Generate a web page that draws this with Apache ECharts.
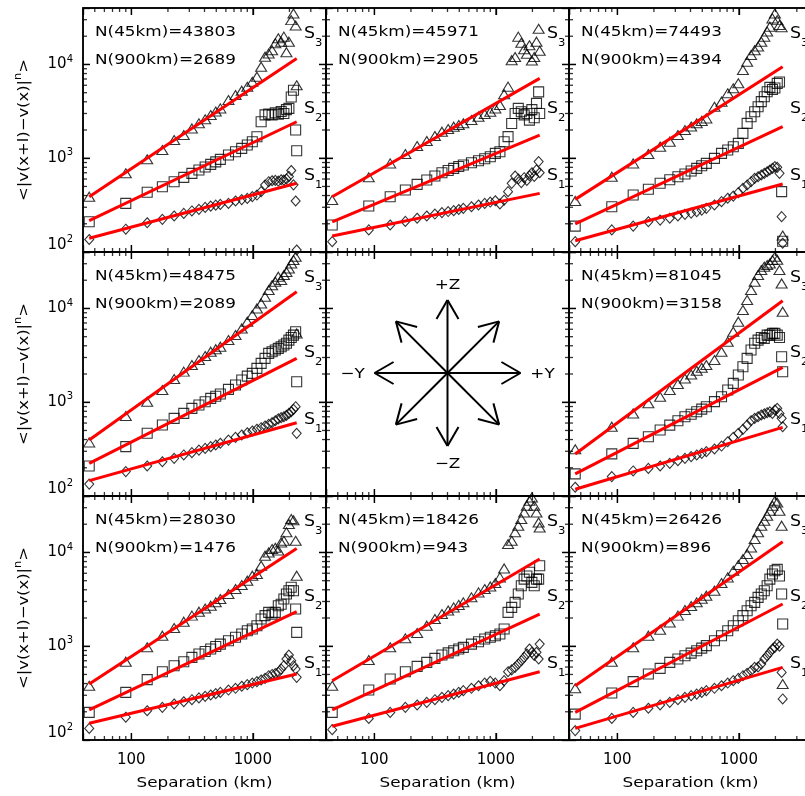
<!DOCTYPE html>
<html><head><meta charset="utf-8">
<script src="https://cdn.jsdelivr.net/npm/echarts@6/dist/echarts.min.js"></script>
<style>html,body{margin:0;padding:0;background:#fff}#c{width:805px;height:796px}</style>
</head><body><div id="c"></div>
<script>
// ---------- data ----------
const SEP = [45,90,135,180,225,270,315,360,405,450,495,540,630,720,810,900,990,1080,1170,1260,1350,1440,1530,1620,1710,1800,1890,1980,2070,2160,2250,2295];
const FIT_X = [45, 2295];
const X_MAJOR = [100, 1000];
const X_MINOR = [50,60,70,80,90,200,300,400,500,600,700,800,900,2000,3000];
const Y_MAJOR = [1000, 10000];
const Y_MINOR = [200,300,400,500,600,700,800,900,2000,3000,4000,5000,6000,7000,8000,9000,20000,30000];
const N45  = [43803,45971,74493,48475,null,81045,28030,18426,26426];
const N900 = [2689,2905,4394,2089,null,3158,1476,943,896];

const P1_S3 = [389,690,973,1223,1563,1768,2080,2354,2600,2890,3150,3400,4170,4720,5250,5780,6540,7400,9460,12100,13100,14200,16800,19000,17500,19800,13500,17500,29700,35000,26000,6000];
const P1_S2 = [210,330,433,497,562,625,690,748,805,860,915,973,1082,1174,1274,1382,1500,1697,2453,2900,2950,2900,3050,2950,3150,3000,3300,3400,4500,5300,2000,1200];
const P1_S1 = [136,175,205,223,242,258,274,285,299,309,316,322,330,350,362,373,390,405,440,518,562,575,580,570,590,585,600,640,740,520,350,105];

const P2_S3 = [358,625,881,1109,1350,1525,1725,1920,2050,2170,2260,2355,2553,2773,2960,3135,3400,3700,4800,5800,11100,12000,19800,17000,14500,13000,16000,11000,12000,17500,24000,14000];
const P2_S2 = [194,309,389,458,526,586,646,701,740,780,815,847,896,941,988,1038,1127,1174,1500,1700,2350,3000,3400,3130,2900,3000,2550,3300,2700,3850,5100,3000];
const P2_S1 = [129,172,194,212,229,242,254,263,270,276,284,292,304,317,330,341,352,325,358,440,540,646,600,550,620,580,650,700,640,750,920,700];

const P3_S3 = [350,635,881,1109,1328,1500,1766,1995,2180,2354,2500,2660,3540,4010,4920,5560,6290,8710,10700,12600,14200,15500,17500,19800,22400,25300,31000,35000,29700,26300,25000,150];
const P3_S2 = [189,304,405,466,540,590,635,680,730,780,830,881,997,1127,1222,1328,1440,1840,2354,2770,3135,3540,4010,4530,5120,5690,5400,5600,6290,6500,440,130];
const P3_S1 = [129,172,189,210,219,229,242,252,260,269,280,292,317,344,374,395,429,477,518,562,610,635,662,690,718,748,780,813,800,690,238,124];

const P4_S3 = [373,713,1014,1350,1766,2120,2495,2820,3110,3460,3680,3910,4600,5200,6120,7220,8510,10000,11300,13300,15700,17700,19300,21800,20100,22700,24500,26700,30200,32800,35500,5420];
const P4_S2 = [209,336,466,571,673,760,860,934,1010,1099,1160,1222,1371,1525,1725,1900,2030,2296,2596,2936,3320,3450,3600,3750,3910,4080,4250,4600,4900,5200,5650,1656];
const P4_S1 = [134,182,209,232,252,274,290,309,322,336,350,365,395,422,447,473,493,515,535,558,580,605,635,665,685,701,725,760,792,840,896,466];

const P6_S3 = [315,548,760,973,1146,1350,1563,1795,1980,2168,2330,2495,2820,3460,4420,5650,7220,9620,12300,15700,19300,22700,25700,27900,29000,30200,32800,35600,33000,25700,18500,9230];
const P6_S2 = [172,281,364,429,506,570,635,701,745,792,845,896,1014,1146,1350,1590,1950,2393,2936,3600,4250,4600,4900,4800,5200,5200,5420,5420,5200,4900,3050,2115];
const P6_S1 = [124,161,185,197,209,223,238,252,263,274,285,297,317,341,379,422,466,514,571,635,673,700,731,750,773,790,760,826,860,760,673,548];

const P7_S3 = [379,684,973,1295,1563,1828,2120,2335,2520,2705,2940,3185,3600,4070,4490,5000,5650,5900,7220,9230,10000,10860,11200,10500,12800,13300,16400,20100,22700,22000,13300,5650];
const P7_S2 = [197,322,440,535,620,684,760,826,880,934,995,1054,1146,1245,1350,1465,1525,1656,1950,2120,2296,2200,2296,2705,2800,3185,3600,3910,4250,3910,2495,1406];
const P7_S1 = [133,175,205,223,242,256,269,281,292,302,312,322,341,356,374,389,405,419,436,454,485,500,510,526,571,620,731,805,701,620,571,466];

const P8_S3 = [379,713,973,1213,1383,1656,1950,2204,2400,2596,2760,2936,3320,3750,4070,4345,4720,5420,6760,12300,13300,16400,19300,22700,26700,31500,35600,38600,31500,26700,20900,18500];
const P8_S2 = [197,341,447,535,610,673,742,805,850,896,935,973,1054,1117,1193,1245,1295,1350,1525,2296,2596,2936,3600,4420,5200,5600,6140,4800,4420,5200,5200,7220];
const P8_S1 = [129,170,197,223,236,252,269,285,297,309,322,336,356,379,405,422,405,379,429,535,560,595,646,701,760,826,934,860,800,860,731,1054];

const P9_S3 = [356,684,973,1295,1500,1795,2120,2430,2680,2936,3200,3460,3910,4720,5420,6380,7340,8510,9620,11300,13900,16400,19300,21800,24600,27900,31500,35600,34000,27900,19300,395];
const P9_S2 = [189,317,419,506,580,673,731,792,845,896,955,1014,1146,1295,1465,1656,1870,2120,2393,2705,2936,3320,3600,3910,4420,5200,5890,6380,6600,5600,3600,1725];
const P9_S1 = [126,170,197,218,236,252,269,285,297,309,322,336,356,379,405,429,454,485,514,548,595,600,646,731,792,860,934,973,1054,1000,526,274];

// fit lines: value at 45 km and at 2295 km
const FIT_S3 = [[389,11600],[389,7100],[364,9460],[395,15070],null,[281,12100],[395,11040],[429,8510],[379,13000]];
const FIT_S2 = [[216,2449],[210,1766],[199,2168],[223,2940],null,[172,2355],[210,2335],[210,2200],[197,2820]];
const FIT_S1 = [[140,540],[148,422],[132,531],[146,605],null,[118,540],[151,506],[140,535],[133,595]];

const PANEL_DATA = [
  [P1_S1,P1_S2,P1_S3],[P2_S1,P2_S2,P2_S3],[P3_S1,P3_S2,P3_S3],
  [P4_S1,P4_S2,P4_S3],null,[P6_S1,P6_S2,P6_S3],
  [P7_S1,P7_S2,P7_S3],[P8_S1,P8_S2,P8_S3],[P9_S1,P9_S2,P9_S3]
];

// ---------- layout ----------
const COL_L = [83, 326, 569], ROW_T = [8, 252, 496], PW = 243, PH = 244;
const X_MIN = 40, X_MAX = 4000, Y_MIN = 100, Y_MAX = 40000;
const FONT = 'DejaVu Sans';
const SX = 1.16;
const S_OFF = [168, 101, 26];
const TICK_MAJ = 7, TICK_MIN = 4, TICK_W = 1.3;

const chart = echarts.init(document.getElementById('c'));

function isPow10(v){ const l = Math.log10(v); return Math.abs(l - Math.round(l)) < 1e-6; }

const grids = [], xAxes = [], yAxes = [], xAxesTop = [], yAxesRight = [], series = [], tickSeriesList = [], graphics = [];
const SYMBOLS = [['diamond',[9,10]],['rect',[10,10]],['triangle',[11,9]]];
const FITS = [FIT_S1, FIT_S2, FIT_S3];
const nativeTick = {show:true, inside:true, length:TICK_MAJ, lineStyle:{color:'#000', width:TICK_W}};
const lineSt = {show:true, lineStyle:{color:'#000', width:1.5}};

function tickSeries(i, items) {
  return {type:'scatter', xAxisIndex:i, yAxisIndex:i, symbol:'rect', data:items,
    itemStyle:{color:'#000'}, clip:false, z:6};
}

for (let i = 0; i < 9; i++) {
  const r = Math.floor(i / 3), c = i % 3;
  const L = COL_L[c], T = ROW_T[r];
  grids.push({left:L, top:T, width:PW, height:PH, show:true, borderColor:'#000', borderWidth:1.5,
              containLabel:false, outerBoundsMode:'none'});
  xAxes.push({gridIndex:i, type:'log', logBase:10, min:X_MIN, max:X_MAX, position:'bottom',
    axisLine:lineSt, axisTick:nativeTick, splitLine:{show:false},
    axisLabel:{show: r === 2, margin:13, color:'#000', fontSize:15, fontFamily:FONT,
      formatter: v => isPow10(v) ? String(Math.round(v)) : ''}});
  yAxes.push({gridIndex:i, type:'log', logBase:10, min:Y_MIN, max:Y_MAX, position:'left',
    axisLine:lineSt, axisTick:nativeTick, splitLine:{show:false},
    axisLabel:{show: c === 0, margin:10, color:'#000', fontFamily:FONT,
      formatter: v => {
        if (!isPow10(v)) return '';
        const e = Math.round(Math.log10(v));
        if (e === 2) return '{c|10}{d|2}';
        return '{b|10}{s|' + e + '}';
      },
      rich:{
        b:{fontSize:15, fontFamily:FONT, color:'#000'},
        s:{fontSize:10, fontFamily:FONT, color:'#000', padding:[0,0,11,0]},
        c:{fontSize:15, fontFamily:FONT, color:'#000', padding:[0,0,14,0]},
        d:{fontSize:10, fontFamily:FONT, color:'#000', padding:[0,0,25,0]}
      }}});
  xAxesTop.push({gridIndex:i, type:'log', logBase:10, min:X_MIN, max:X_MAX, position:'top',
    axisLine:lineSt, axisTick:nativeTick, splitLine:{show:false}, axisLabel:{show:false}});
  yAxesRight.push({gridIndex:i, type:'log', logBase:10, min:Y_MIN, max:Y_MAX, position:'right',
    axisLine:lineSt, axisTick:nativeTick, splitLine:{show:false}, axisLabel:{show:false}});

  // inward tick marks on all four sides (major + minor), placed by the log axes
  const xt = X_MAJOR.map(v => [v, TICK_MAJ]).concat(X_MINOR.map(v => [v, TICK_MIN]));
  const yt = Y_MAJOR.map(v => [v, TICK_MAJ]).concat(Y_MINOR.map(v => [v, TICK_MIN]));
  tickSeriesList.push(tickSeries(i, xt.map(p => ({value:[p[0], Y_MIN], symbolSize:[TICK_W, p[1]], symbolOffset:[0, -p[1]/2]}))));
  tickSeriesList.push(tickSeries(i, xt.map(p => ({value:[p[0], Y_MAX], symbolSize:[TICK_W, p[1]], symbolOffset:[0, p[1]/2]}))));
  tickSeriesList.push(tickSeries(i, yt.map(p => ({value:[X_MIN, p[0]], symbolSize:[p[1], TICK_W], symbolOffset:[p[1]/2, 0]}))));
  tickSeriesList.push(tickSeries(i, yt.map(p => ({value:[X_MAX, p[0]], symbolSize:[p[1], TICK_W], symbolOffset:[-p[1]/2, 0]}))));

  const pd = PANEL_DATA[i];
  if (pd) {
    for (let s = 0; s < 3; s++) {
      series.push({type:'scatter', xAxisIndex:i, yAxisIndex:i, symbol:SYMBOLS[s][0], symbolSize:SYMBOLS[s][1],
        data: SEP.map((x, j) => [x, pd[s][j]]),
        itemStyle:{color:'rgba(0,0,0,0)', borderColor:'#000', borderWidth:1.1},
        silent:true, z:2});
    }
    for (let s = 0; s < 3; s++) {
      const f = FITS[s][i];
      series.push({type:'line', xAxisIndex:i, yAxisIndex:i, symbol:'none',
        data: FIT_X.map((x, j) => [x, f[j]]),
        lineStyle:{color:'#ff0000', width:3}, silent:true, z:3});
    }
    graphics.push({type:'text', x:L+12, y:T+24, scaleX:SX, z:10,
      style:{text:'N(45km)=' + N45[i], fontSize:14.5, fontFamily:FONT, fill:'#000', align:'left', verticalAlign:'middle'}});
    graphics.push({type:'text', x:L+12, y:T+52, scaleX:SX, z:10,
      style:{text:'N(900km)=' + N900[i], fontSize:14.5, fontFamily:FONT, fill:'#000', align:'left', verticalAlign:'middle'}});
    for (let s = 0; s < 3; s++) {
      graphics.push({type:'text', x:L+221, y:T+S_OFF[s], scaleX:SX, z:10,
        style:{text:'{a|S}{b|' + (s+1) + '}', fontSize:15, fontFamily:FONT, fill:'#000', align:'left', verticalAlign:'middle',
          rich:{a:{fontSize:15, fontFamily:FONT, fill:'#000'}, b:{fontSize:10, fontFamily:FONT, fill:'#000', padding:[18,0,0,0]}}}});
    }
  }
  if (c === 0) {
    graphics.push({type:'text', x:24, y:T+PH/2, rotation:Math.PI/2, scaleX:1.13, z:10,
      style:{text:'<|v(x+l)\u2212v(x)|{n|n}>', fontSize:14.5, fontFamily:FONT, fill:'#000', align:'center', verticalAlign:'middle',
        rich:{n:{fontSize:10, fontFamily:FONT, fill:'#000', padding:[0,0,12,0]}}}});
  }
  if (r === 2) {
    graphics.push({type:'text', x:L+PW/2, y:783, scaleX:SX, z:10,
      style:{text:'Separation (km)', fontSize:14.5, fontFamily:FONT, fill:'#000', align:'center', verticalAlign:'middle'}});
  }
}

// centre panel: direction diagram
(function(){
  const cx = COL_L[1] + PW/2, cy = ROW_T[1] + PH/2 - 1, len = 73, head = 22, ha = Math.PI/6;
  const st = {stroke:'#000', lineWidth:2};
  for (let k = 0; k < 8; k++) {
    const a = k * Math.PI / 4;
    const tx = cx + len*Math.cos(a), ty = cy - len*Math.sin(a);
    graphics.push({type:'line', shape:{x1:cx, y1:cy, x2:tx, y2:ty}, style:st, z:10});
    [a+ha, a-ha].forEach(b => {
      graphics.push({type:'line', shape:{x1:tx, y1:ty, x2:tx - head*Math.cos(b), y2:ty + head*Math.sin(b)}, style:st, z:10});
    });
  }
  const labs = [['+Z', cx, cy-88], ['\u2212Z', cx, cy+91], ['\u2212Y', cx-95, cy+1], ['+Y', cx+95, cy+1]];
  labs.forEach(l => graphics.push({type:'text', x:l[1], y:l[2], scaleX:SX, z:10,
    style:{text:l[0], fontSize:14.5, fontFamily:FONT, fill:'#000', align:'center', verticalAlign:'middle'}}));
})();

chart.setOption({
  animation:false,
  grid:grids,
  xAxis:xAxes.concat(xAxesTop),
  yAxis:yAxes.concat(yAxesRight),
  series:series.concat(tickSeriesList),
  graphic:graphics
});
</script></body></html>
